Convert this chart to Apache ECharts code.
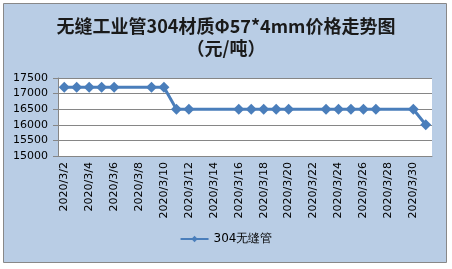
<!DOCTYPE html>
<html>
<head>
<meta charset="utf-8">
<script src="https://cdn.jsdelivr.net/npm/echarts@6/dist/echarts.min.js"></script>
<style>
html, body { margin: 0; padding: 0; background: #fff; }
#chart { width: 452px; height: 269px; }
</style>
</head>
<body>
<div id="chart"></div>
<script>
// 日期（每天一格，周末无数据）
var days = [
    '2020/3/2', '2020/3/3', '2020/3/4', '2020/3/5', '2020/3/6', '2020/3/7', '2020/3/8',
    '2020/3/9', '2020/3/10', '2020/3/11', '2020/3/12', '2020/3/13', '2020/3/14', '2020/3/15',
    '2020/3/16', '2020/3/17', '2020/3/18', '2020/3/19', '2020/3/20', '2020/3/21', '2020/3/22',
    '2020/3/23', '2020/3/24', '2020/3/25', '2020/3/26', '2020/3/27', '2020/3/28', '2020/3/29',
    '2020/3/30', '2020/3/31'
];
var prices = [
    17200, 17200, 17200, 17200, 17200, null, null,
    17200, 17200, 16500, 16500, null, null, null,
    16500, 16500, 16500, 16500, 16500, null, null,
    16500, 16500, 16500, 16500, 16500, null, null,
    16500, 16000
];
var seriesName = '304无缝管';
var titleText = '无缝工业管304材质Φ57*4mm价格走势图\n（元/吨）';

var myChart = echarts.init(document.getElementById('chart'));
var cjk = '"Noto Sans CJK SC", "DejaVu Sans", sans-serif';
var latin = '"DejaVu Sans", sans-serif';

var option = {
    backgroundColor: '#fff',
    animation: false,
    graphic: [
        {
            type: 'rect',
            z: -10,
            shape: { x: 3.5, y: 3.5, width: 443, height: 259 },
            style: { fill: '#b9cde5', stroke: '#888', lineWidth: 1 }
        },
        {
            type: 'rect',
            z: -5,
            shape: { x: 58, y: 78, width: 374, height: 78 },
            style: { fill: '#fff' }
        }
    ],
    title: {
        text: titleText,
        left: 'center',
        top: 10,
        textStyle: {
            fontFamily: cjk,
            fontSize: 18,
            fontWeight: 'bold',
            color: '#1a1a1a',
            lineHeight: 22
        }
    },
    legend: {
        bottom: 19,
        left: 'center',
        itemWidth: 28,
        itemHeight: 8,
        itemGap: 4,
        textStyle: { fontFamily: latin, fontSize: 12, color: '#000' },
        data: [seriesName]
    },
    grid: {
        left: 58,
        right: 20,
        top: 78,
        bottom: 113
    },
    xAxis: {
        type: 'category',
        data: days,
        boundaryGap: true,
        axisLine: { lineStyle: { color: '#868686' } },
        axisTick: { interval: 1, length: 5, lineStyle: { color: '#868686' } },
        axisLabel: {
            interval: 1,
            rotate: 90,
            fontFamily: latin,
            fontSize: 11,
            color: '#000',
            margin: 6
        }
    },
    yAxis: {
        type: 'value',
        min: 15000,
        max: 17500,
        interval: 500,
        axisLine: { show: true, lineStyle: { color: '#868686' } },
        axisTick: { show: true, length: 5, lineStyle: { color: '#868686' } },
        splitLine: { lineStyle: { color: '#868686' } },
        axisLabel: {
            fontFamily: latin,
            fontSize: 11,
            color: '#000',
            margin: 10,
            formatter: function (v) { return String(v); }
        }
    },
    series: [
        {
            name: seriesName,
            type: 'line',
            data: prices,
            connectNulls: true,
            showAllSymbol: true,
            symbol: 'diamond',
            symbolSize: 11,
            itemStyle: { color: '#4a7ebb' },
            lineStyle: { color: '#4a7ebb', width: 3 }
        }
    ]
};
myChart.setOption(option);
</script>
</body>
</html>
